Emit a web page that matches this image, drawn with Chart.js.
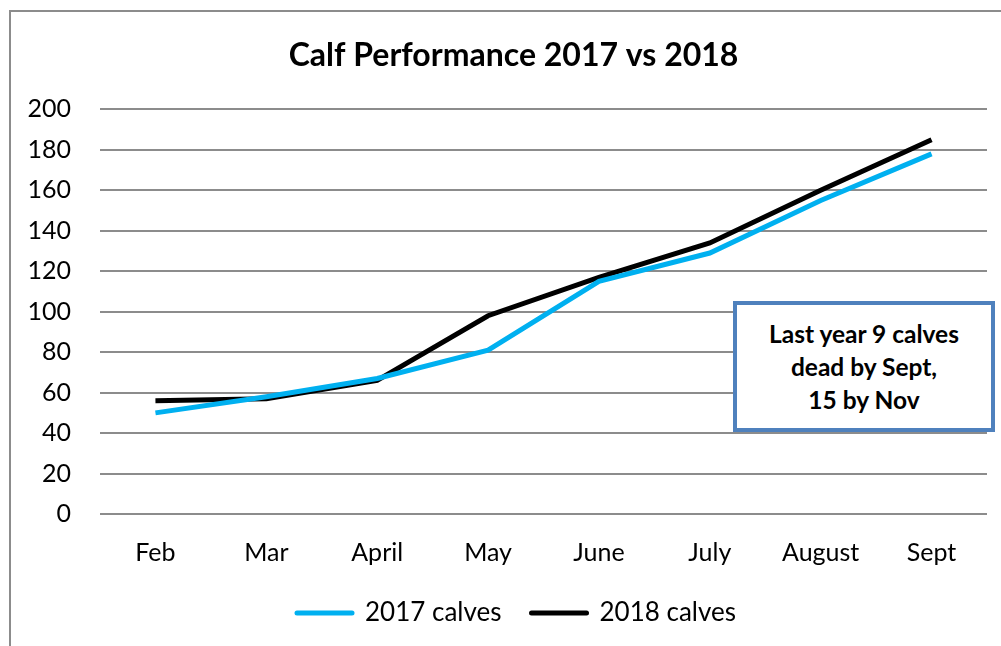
<!DOCTYPE html>
<html>
<head>
<meta charset="utf-8">
<script src="https://cdn.jsdelivr.net/npm/chart.js@4"></script>
<style>
  html, body { margin: 0; padding: 0; background: #fff; }
  #wrap { position: relative; width: 1001px; height: 646px; overflow: hidden; }
  #frame { position: absolute; left: 9px; top: 10px; width: 1100px; height: 700px; border: 2px solid #8c8c8c; }
  #chartBox { position: absolute; left: 0; top: 0; width: 1001px; height: 646px; }
  #note {
    position: absolute; left: 733px; top: 301px; width: 254px; height: 123px;
    border: 4px solid #4f81bd; background: #fff; box-sizing: content-box;
    font-family: Lato, sans-serif; font-weight: bold; font-size: 24.5px; line-height: 33px;
    text-align: center; display: flex; align-items: center; justify-content: center; color: #000;
  }
</style>
</head>
<body>
<div id="wrap">
  <div id="frame"></div>
  <div id="chartBox"><canvas id="calfChart" width="1001" height="646"></canvas></div>
  <div id="note"><div>Last year 9 calves<br>dead by Sept,<br>15 by Nov</div></div>
</div>
<script>
const months = ['Feb', 'Mar', 'April', 'May', 'June', 'July', 'August', 'Sept'];
const calves2017 = [50, 58, 67, 81, 115, 129, 155, 178];
const calves2018 = [56, 57, 66, 98, 117, 134, 160, 185];
const yTicks = [0, 20, 40, 60, 80, 100, 120, 140, 160, 180, 200];

// legend takes less room than chart.js wants; title and legend a bit right of centre
const nudgeBoxes = {
    id: 'nudgeBoxes',
    beforeInit(chart) {
        const fit = chart.legend.fit;
        chart.legend.fit = function () {
            fit.bind(chart.legend)();
            this.height -= 24;
        };
    },
    afterLayout(chart) {
        const lg = chart.legend;
        lg.top -= 22; lg.height += 22;
        lg.left += 23; lg.right += 23;
        const tb = chart.titleBlock;
        tb.left += 20; tb.right += 20;
    }
};

const ctx = document.getElementById('calfChart').getContext('2d');
const calfChart = new Chart(ctx, {
    type: 'line',
    data: {
        labels: months,
        datasets: [{
            label: '2017 calves',
            data: calves2017,
            borderColor: '#00b0f0',
            backgroundColor: '#00b0f0',
            borderWidth: 5,
            pointRadius: 0,
            tension: 0
        }, {
            label: '2018 calves',
            data: calves2018,
            borderColor: '#000000',
            backgroundColor: '#000000',
            borderWidth: 5,
            pointRadius: 0,
            tension: 0
        }]
    },
    plugins: [nudgeBoxes],
    options: {
        responsive: false,
        animation: false,
        layout: { padding: { left: 0, right: 14, top: 0, bottom: 12 } },
        plugins: {
            title: {
                display: true,
                text: 'Calf Performance 2017 vs 2018',
                color: '#000',
                font: { family: 'Lato, sans-serif', size: 32, weight: 'bold' },
                padding: { top: 36, bottom: 35 }
            },
            legend: {
                position: 'bottom',
                labels: {
                    color: '#000',
                    font: { family: 'Lato, sans-serif', size: 26 },
                    usePointStyle: true,
                    pointStyle: 'line',
                    pointStyleWidth: 55,
                    boxHeight: 5,
                    padding: 30,
                    generateLabels(chart) {
                        const items = Chart.defaults.plugins.legend.labels.generateLabels(chart);
                        items.forEach(it => { it.lineCap = 'round'; });
                        return items;
                    }
                }
            },
            tooltip: { enabled: false }
        },
        scales: {
            x: {
                offset: true,
                grid: { display: false, drawTicks: false },
                border: { display: false },
                ticks: { color: '#000', font: { family: 'Lato, sans-serif', size: 25 }, padding: 24 }
            },
            y: {
                min: 0,
                max: 200,
                afterBuildTicks: (scale) => { scale.ticks = yTicks.map(v => ({ value: v })); },
                afterFit: (scale) => { scale.width = 100; },
                grid: { color: '#8c8c8c', lineWidth: 2, drawTicks: false },
                border: { display: false },
                ticks: { color: '#000', font: { family: 'Lato, sans-serif', size: 25 }, padding: 29 }
            }
        }
    }
});
</script>
</body>
</html>
